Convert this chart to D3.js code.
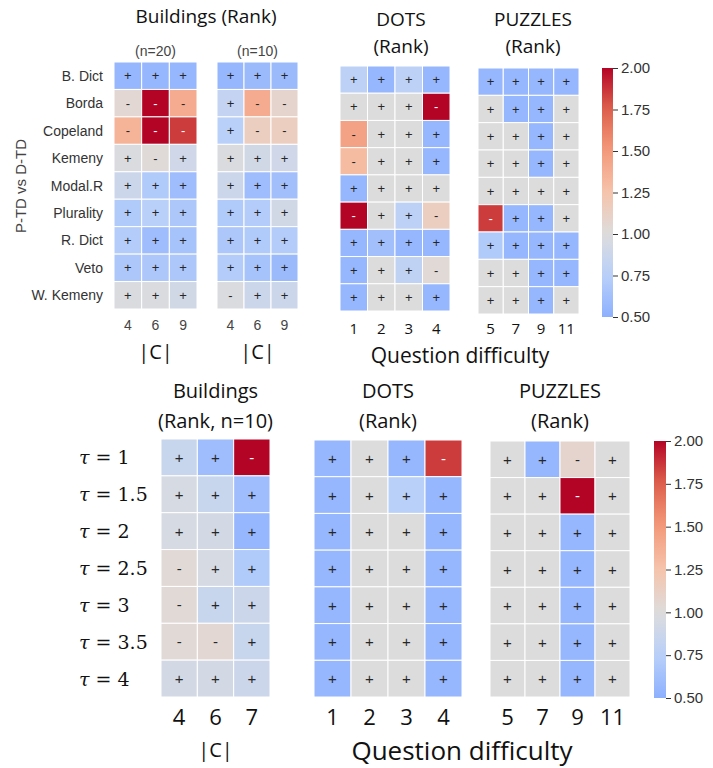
<!DOCTYPE html>
<html><head><meta charset="utf-8">
<script src="https://cdn.jsdelivr.net/npm/d3@7"></script>
<style>body{margin:0;background:#fff}svg{display:block}</style>
</head><body>
<svg id="chart" width="713" height="768"></svg>
<script>
// ---------- DATA ----------
const voteRules = ["B. Dict","Borda","Copeland","Kemeny","Modal.R","Plurality","R. Dict","Veto","W. Kemeny"];
const bldCols = ["4","6","9"];
const dotsCols = ["1","2","3","4"];
const puzCols = ["5","7","9","11"];
const tauVals = ["1","1.5","2","2.5","3","3.5","4"];
const bldTauCols = ["4","6","7"];
const cbTicks = [0.5,0.75,1.0,1.25,1.5,1.75,2.0];

// top: Buildings n=20
const bld20Vals = [[0.55,0.55,0.55],[1.05,2.0,1.4],[1.35,2.0,1.85],[0.98,1.02,0.9],[0.88,0.7,0.6],[0.7,0.75,0.68],[0.72,0.6,0.65],[0.68,0.68,0.68],[0.97,0.97,0.92]];
const bld20Signs = ["+++","---","---","+-+","+++","+++","+++","+++","+++"];
// top: Buildings n=10
const bld10Vals = [[0.55,0.58,0.58],[0.82,1.4,1.08],[0.75,1.15,1.15],[0.97,0.92,0.9],[0.88,0.6,0.62],[0.7,0.72,0.92],[0.68,0.7,0.72],[0.72,0.65,0.58],[0.98,0.88,0.88]];
const bld10Signs = ["+++","+--","+--","+++","+++","+++","+++","+++","-++"];
// top: DOTS
const dotsVals = [[0.78,0.55,0.78,0.55],[1.0,1.0,1.0,2.0],[1.45,1.0,1.0,0.55],[1.3,1.0,1.0,0.55],[0.55,1.0,1.0,1.0],[2.0,1.0,0.78,1.15],[0.55,0.62,0.55,0.55],[0.55,1.0,0.8,1.03],[0.55,1.0,1.0,0.55]];
const dotsSigns = ["++++","+++-","-+++","-+++","++++","-++-","++++","+++-","++++"];
// top: PUZZLES
const puzVals = [[0.55,0.55,0.55,0.55],[1.0,0.55,0.55,1.0],[1.0,1.0,0.55,1.0],[1.0,1.0,0.55,1.0],[1.0,1.0,1.0,1.0],[1.85,0.55,0.55,1.0],[0.7,0.55,0.55,0.55],[1.0,1.0,0.55,0.55],[1.0,1.0,0.55,1.0]];
const puzSigns = ["++++","++++","++++","++++","++++","-+++","++++","++++","++++"];
// bottom: Buildings (tau)
const bldTauVals = [[0.85,0.6,2.0],[0.95,0.85,0.6],[0.95,0.93,0.55],[1.03,0.95,0.7],[1.03,0.85,0.88],[1.03,1.05,0.85],[0.93,0.93,0.88]];
const bldTauSigns = ["++-","+++","+++","-++","-++","--+","+++"];
// bottom: DOTS (tau)
const dotsTauVals = [[0.55,1.0,0.55,1.85],[0.55,1.0,0.75,0.55],[0.55,1.0,1.0,0.55],[0.55,1.0,1.0,0.55],[0.55,1.0,1.0,0.55],[0.55,1.0,1.0,0.55],[0.55,1.0,1.0,0.55]];
const dotsTauSigns = ["+++-","++++","++++","++++","++++","++++","++++"];
// bottom: PUZZLES (tau)
const puzTauVals = [[1.0,0.55,1.08,1.0],[1.0,1.0,2.0,1.0],[1.0,1.0,0.55,1.0],[1.0,1.0,0.55,1.0],[1.0,1.0,0.55,1.0],[1.0,1.0,0.55,1.0],[1.0,1.0,0.55,1.0]];
const puzTauSigns = ["++-+","++-+","++++","++++","++++","++++","++++"];

// ---------- COLOR (seaborn coolwarm, center=1, vmin .5, vmax 2) ----------
const cw = d3.scaleLinear()
  .domain([0.25,0.375,0.5,0.625,0.75,0.875,1.0])
  .range(["#8db0fe","#b9d0f9","#dddcdc","#f5c4ac","#f49a7b","#de614d","#b40426"])
  .interpolate(d3.interpolateRgb).clamp(true);
const color = v => cw(Math.max(0.5, Math.min(2, v)) / 2);
function lum(c){
  const r = d3.rgb(c);
  const f = x => { x/=255; return x<=0.03928 ? x/12.92 : Math.pow((x+0.055)/1.055,2.4); };
  return 0.2126*f(r.r)+0.7152*f(r.g)+0.0722*f(r.b);
}

const svg = d3.select("#chart");
const SANS = "'Liberation Sans', Arial, sans-serif";
const CAL = "'Open Sans', Lato, sans-serif";

function heatmap(cfg){
  const g = svg.append("g");
  const x = d3.scaleBand().domain(cfg.cols).range([cfg.x0,cfg.x1]);
  const y = d3.scaleBand().domain(d3.range(cfg.vals.length)).range([cfg.y0,cfg.y1]);
  cfg.vals.forEach((row,i)=>{
    row.forEach((v,j)=>{
      const c = color(v);
      g.append("rect").attr("x",x(cfg.cols[j])).attr("y",y(i))
        .attr("width",x.bandwidth()).attr("height",y.bandwidth())
        .attr("fill",c).attr("stroke","#fff").attr("stroke-width",1);
      const s = cfg.signs[i][j];
      g.append("text").attr("x",x(cfg.cols[j])+x.bandwidth()/2).attr("y",y(i)+y.bandwidth()/2)
        .attr("text-anchor","middle").attr("dominant-baseline","central")
        .attr("font-family",SANS).attr("font-size",cfg.fs)
        .attr("fill", lum(c) > 0.408 ? "#262626" : "#ffffff")
        .text(s);
    });
  });
  cfg.cols.forEach(c=>{
    g.append("text").attr("x",x(c)+x.bandwidth()/2).attr("y",cfg.tickY)
      .attr("text-anchor","middle").attr("font-family",cfg.tickFont).attr("font-size",cfg.tickFs)
      .attr("fill",cfg.tickColor).text(c);
  });
  return {x,y};
}

function colorbar(x0,x1,y0,y1){
  const id = "grad"+Math.round(y0);
  const grad = svg.append("defs").append("linearGradient").attr("id",id)
    .attr("x1",0).attr("y1",1).attr("x2",0).attr("y2",0);
  d3.range(0,1.0001,0.05).forEach(t=>{
    grad.append("stop").attr("offset",t).attr("stop-color",color(0.5+1.5*t));
  });
  svg.append("rect").attr("x",x0).attr("y",y0).attr("width",x1-x0).attr("height",y1-y0).attr("fill",`url(#${id})`);
  const s = d3.scaleLinear().domain([0.5,2]).range([y1,y0]);
  const ax = d3.axisRight(s).tickValues(cbTicks).tickFormat(d3.format(".2f")).tickSize(5).tickPadding(3);
  const ag = svg.append("g").attr("transform",`translate(${x1},0)`).call(ax);
  ag.select(".domain").remove();
  ag.selectAll("line").attr("stroke","#333");
  ag.selectAll("text").attr("font-family",SANS).attr("font-size",15).attr("fill","#333");
}

function label(t, x, y, fs, fam, fill){
  return svg.append("text").attr("x",x).attr("y",y).attr("text-anchor","middle")
    .attr("font-family",fam||CAL).attr("font-size",fs).attr("fill",fill||"#111").text(t);
}
function title(lines, cx, baselines, fs){
  lines.forEach((t,i)=> label(t, cx, baselines[i], fs));
}

// ---------- TOP ----------
title(["Buildings (Rank)"],206,[23],19);
label("(n=20)",155.5,56,14,SANS,"#444");
label("(n=10)",257.5,56,14,SANS,"#444");

const topCommon = {tickY:330, tickFont:SANS, tickFs:14, tickColor:"#444", fs:13};
const h20 = heatmap(Object.assign({cols:bldCols, vals:bld20Vals, signs:bld20Signs, x0:114, x1:197, y0:62, y1:309}, topCommon));
heatmap(Object.assign({cols:bldCols, vals:bld10Vals, signs:bld10Signs, x0:217, x1:298, y0:62, y1:309}, topCommon));
voteRules.forEach((r,i)=>{
  svg.append("text").attr("x",103).attr("y",h20.y(i)+h20.y.bandwidth()/2)
    .attr("text-anchor","end").attr("dominant-baseline","central")
    .attr("font-family",SANS).attr("font-size",14).attr("fill","#333").text(r);
});
svg.append("text").attr("transform","translate(26,186) rotate(-90)").attr("text-anchor","middle")
  .attr("font-family",SANS).attr("font-size",15).attr("fill","#444").text("P-TD vs D-TD");
label("|C|",155.5,359,20);
label("|C|",257.5,359,20);

title(["DOTS","(Rank)"],401,[26,53],19);
title(["PUZZLES","(Rank)"],533,[26,53],19);
const topQ = {tickY:334, tickFont:CAL, tickFs:15, tickColor:"#111", fs:13};
heatmap(Object.assign({cols:dotsCols, vals:dotsVals, signs:dotsSigns, x0:340, x1:450, y0:66, y1:311}, topQ));
heatmap(Object.assign({cols:puzCols, vals:puzVals, signs:puzSigns, x0:478, x1:579, y0:68, y1:314}, topQ));
label("Question difficulty",460,363,21);
colorbar(602,613,68,317);

// ---------- BOTTOM ----------
title(["Buildings","(Rank, n=10)"],215.5,[398,428],20);
title(["DOTS","(Rank)"],388,[398,428],20);
title(["PUZZLES","(Rank)"],560,[398,428],20);
const botCommon = {tickY:725, tickFont:CAL, tickFs:22, tickColor:"#111", fs:15};
const hb = heatmap(Object.assign({cols:bldTauCols, vals:bldTauVals, signs:bldTauSigns, x0:161, x1:270, y0:439, y1:697}, botCommon));
heatmap(Object.assign({cols:dotsCols, vals:dotsTauVals, signs:dotsTauSigns, x0:314, x1:462, y0:440, y1:697}, botCommon));
heatmap(Object.assign({cols:puzCols, vals:puzTauVals, signs:puzTauSigns, x0:490, x1:630, y0:441, y1:697}, botCommon));
tauVals.forEach((t,i)=>{
  const tx = svg.append("text").attr("x",79).attr("y",hb.y(i)+hb.y.bandwidth()/2)
    .attr("dominant-baseline","central").attr("font-family","'DejaVu Serif', serif").attr("font-size",19).attr("fill","#111");
  tx.append("tspan").attr("font-style","italic").text("τ");
  tx.append("tspan").text(" = " + t);
});
label("|C|",215.5,757,20);
label("Question difficulty",462,760,26);
colorbar(654,666,441,698);
</script>
</body></html>
